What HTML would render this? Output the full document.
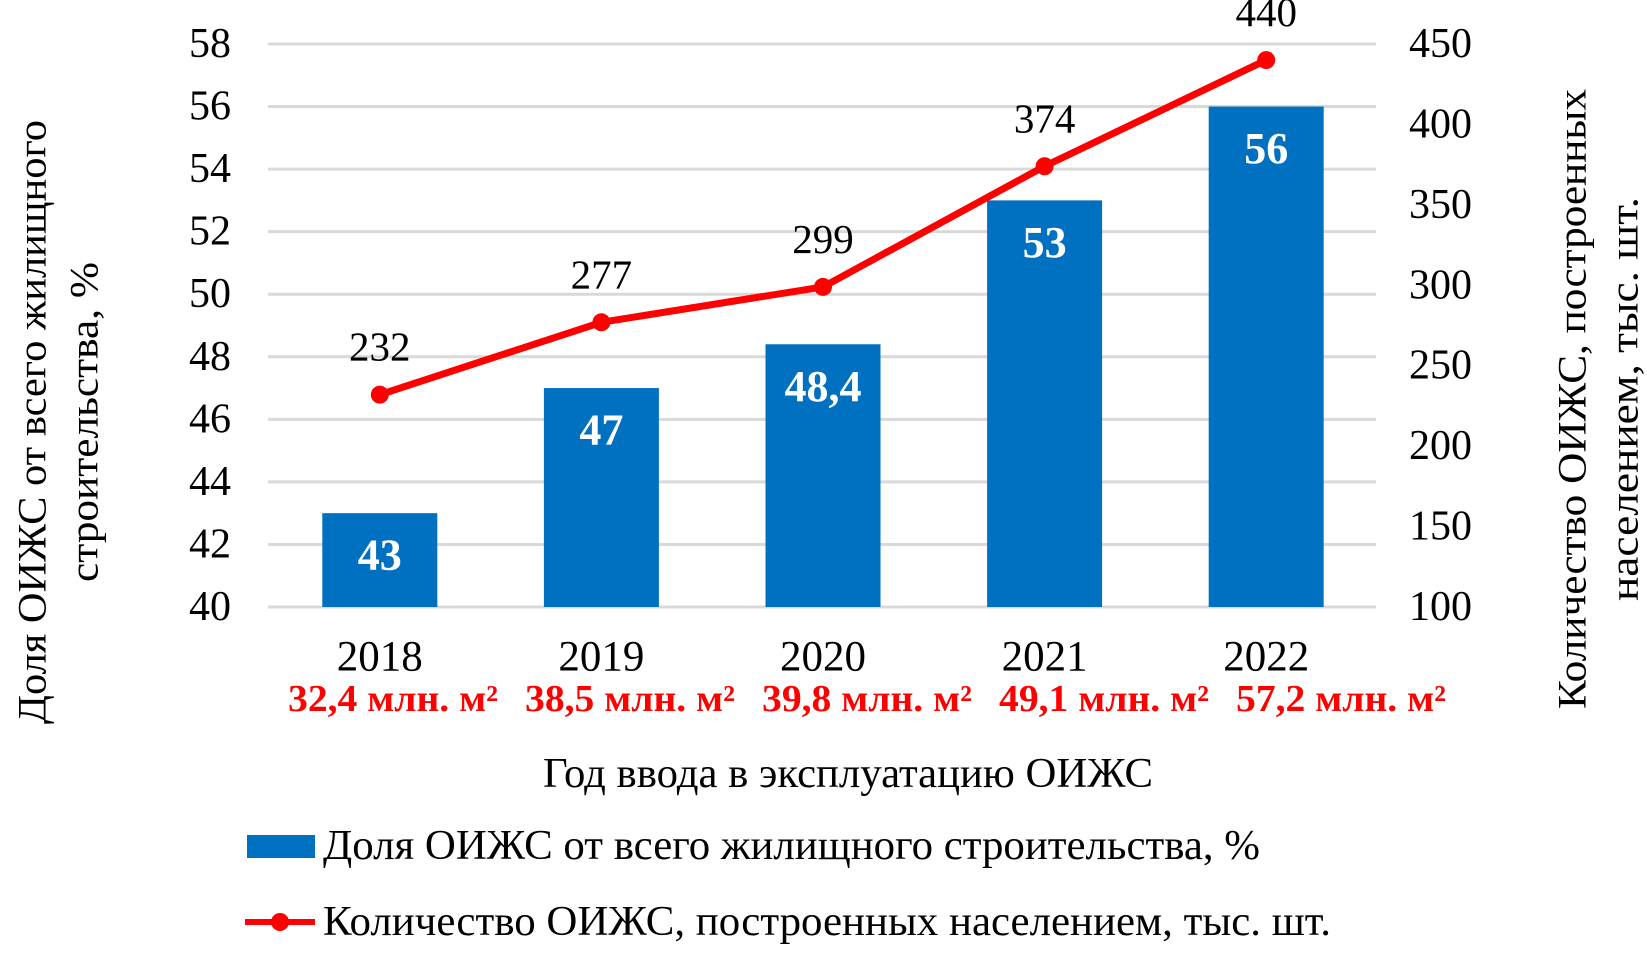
<!DOCTYPE html>
<html><head><meta charset="utf-8"><style>
html,body{margin:0;padding:0;background:#fff;}
svg{display:block;font-family:"Liberation Serif","Noto Serif CJK SC",serif;}
</style></head><body>
<svg id="chart" width="1647" height="954" viewBox="0 0 1647 954">
<g id="grid"></g>
<g id="bars"></g>
<g id="line"></g>
<g id="axes"></g>
<text transform="translate(32,422) rotate(-90)" text-anchor="middle" dominant-baseline="central" font-size="40" textLength="604" lengthAdjust="spacingAndGlyphs">Доля ОИЖС от всего жилищного</text>
<text transform="translate(84,422) rotate(-90)" text-anchor="middle" dominant-baseline="central" font-size="40" textLength="320" lengthAdjust="spacingAndGlyphs">строительства, %</text>
<text transform="translate(1572,399) rotate(-90)" text-anchor="middle" dominant-baseline="central" font-size="40" textLength="620" lengthAdjust="spacingAndGlyphs">Количество ОИЖС, построенных</text>
<text transform="translate(1624,399) rotate(-90)" text-anchor="middle" dominant-baseline="central" font-size="40" textLength="404" lengthAdjust="spacingAndGlyphs">населением, тыс. шт.</text>
<text x="848" y="774" text-anchor="middle" dominant-baseline="central" font-size="42" textLength="610" lengthAdjust="spacingAndGlyphs">Год ввода в эксплуатацию ОИЖС</text>
<rect x="247" y="835" width="68" height="23" fill="#0070c0"/>
<text x="323" y="846" dominant-baseline="central" font-size="42" textLength="937" lengthAdjust="spacingAndGlyphs">Доля ОИЖС от всего жилищного строительства, %</text>
<line x1="245" y1="922" x2="315" y2="922" stroke="#ff0000" stroke-width="6"/>
<circle cx="280" cy="922" r="9" fill="#ff0000"/>
<text x="323" y="922" dominant-baseline="central" font-size="42" textLength="1008" lengthAdjust="spacingAndGlyphs">Количество ОИЖС, построенных населением, тыс. шт.</text>
</svg>
<script>
const categories = ["2018","2019","2020","2021","2022"];
const areaLabels = ["32,4 млн. м²","38,5 млн. м²","39,8 млн. м²","49,1 млн. м²","57,2 млн. м²"];
const shareValues = [43,47,48.4,53,56];
const shareLabels = ["43","47","48,4","53","56"];
const countValues = [232,277,299,374,440];
const leftTicks = [40,42,44,46,48,50,52,54,56,58];
const rightTicks = [100,150,200,250,300,350,400,450];

const NS="http://www.w3.org/2000/svg";
const X0=268,X1=1376,Y0=607,Y1=44;
const yL=v=>Y0+(v-40)/(58-40)*(Y1-Y0);
const yR=v=>Y0+(v-100)/(450-100)*(Y1-Y0);
const band=(X1-X0)/categories.length;
const xC=i=>X0+band*(i+0.5)+1;
function mk(tag,attrs,parent,text){const e=document.createElementNS(NS,tag);for(const k in attrs)e.setAttribute(k,attrs[k]);if(text!==undefined)e.textContent=text;parent.appendChild(e);return e;}
const grid=document.getElementById('grid'),bars=document.getElementById('bars'),line=document.getElementById('line'),axes=document.getElementById('axes');
leftTicks.forEach(t=>{
  const l=mk('line',{x1:X0,x2:X1,y1:yL(t),y2:yL(t),stroke:'#d9d9d9','stroke-width':3},grid);
  
  
  const tx=mk('text',{x:231,y:yL(t),'text-anchor':'end','dominant-baseline':'central','font-size':42},axes,String(t));
  
  
});
rightTicks.forEach(t=>{
  const tx=mk('text',{x:1409,y:yR(t),'dominant-baseline':'central','font-size':42},axes,String(t));
  
  
});
const bw=115;
shareValues.forEach((v,i)=>{
  const r=mk('rect',{x:xC(i)-bw/2,y:yL(v),width:bw,height:Y0-yL(v),fill:'#0070c0'},bars);
  
  
  const t=mk('text',{x:xC(i),y:yL(v)+42,'text-anchor':'middle','dominant-baseline':'central','font-size':44,'font-weight':'bold',fill:'#fff'},bars,shareLabels[i]);
  
  
  const y=mk('text',{x:xC(i),y:657,'text-anchor':'middle','dominant-baseline':'central','font-size':43},axes,categories[i]);
  
  
  const a=mk('text',{x:393+237*i,y:699,'text-anchor':'middle','dominant-baseline':'central','font-size':38,'font-weight':'bold',fill:'#ff0000',textLength:210,lengthAdjust:'spacingAndGlyphs'},axes,areaLabels[i]);
  
  
});
const pts=countValues.map((v,i)=>xC(i)+','+yR(v)).join(' ');
const pl=mk('polyline',{points:pts,fill:'none',stroke:'#ff0000','stroke-width':7,'stroke-linejoin':'round'},line);


countValues.forEach((v,i)=>{
  const c=mk('circle',{cx:xC(i),cy:yR(v),r:9,fill:'#ff0000'},line);
  
  
  const t=mk('text',{x:xC(i),y:yR(v)-48,'text-anchor':'middle','dominant-baseline':'central','font-size':41},line,String(v));
  
  
});
</script>
</body></html>
